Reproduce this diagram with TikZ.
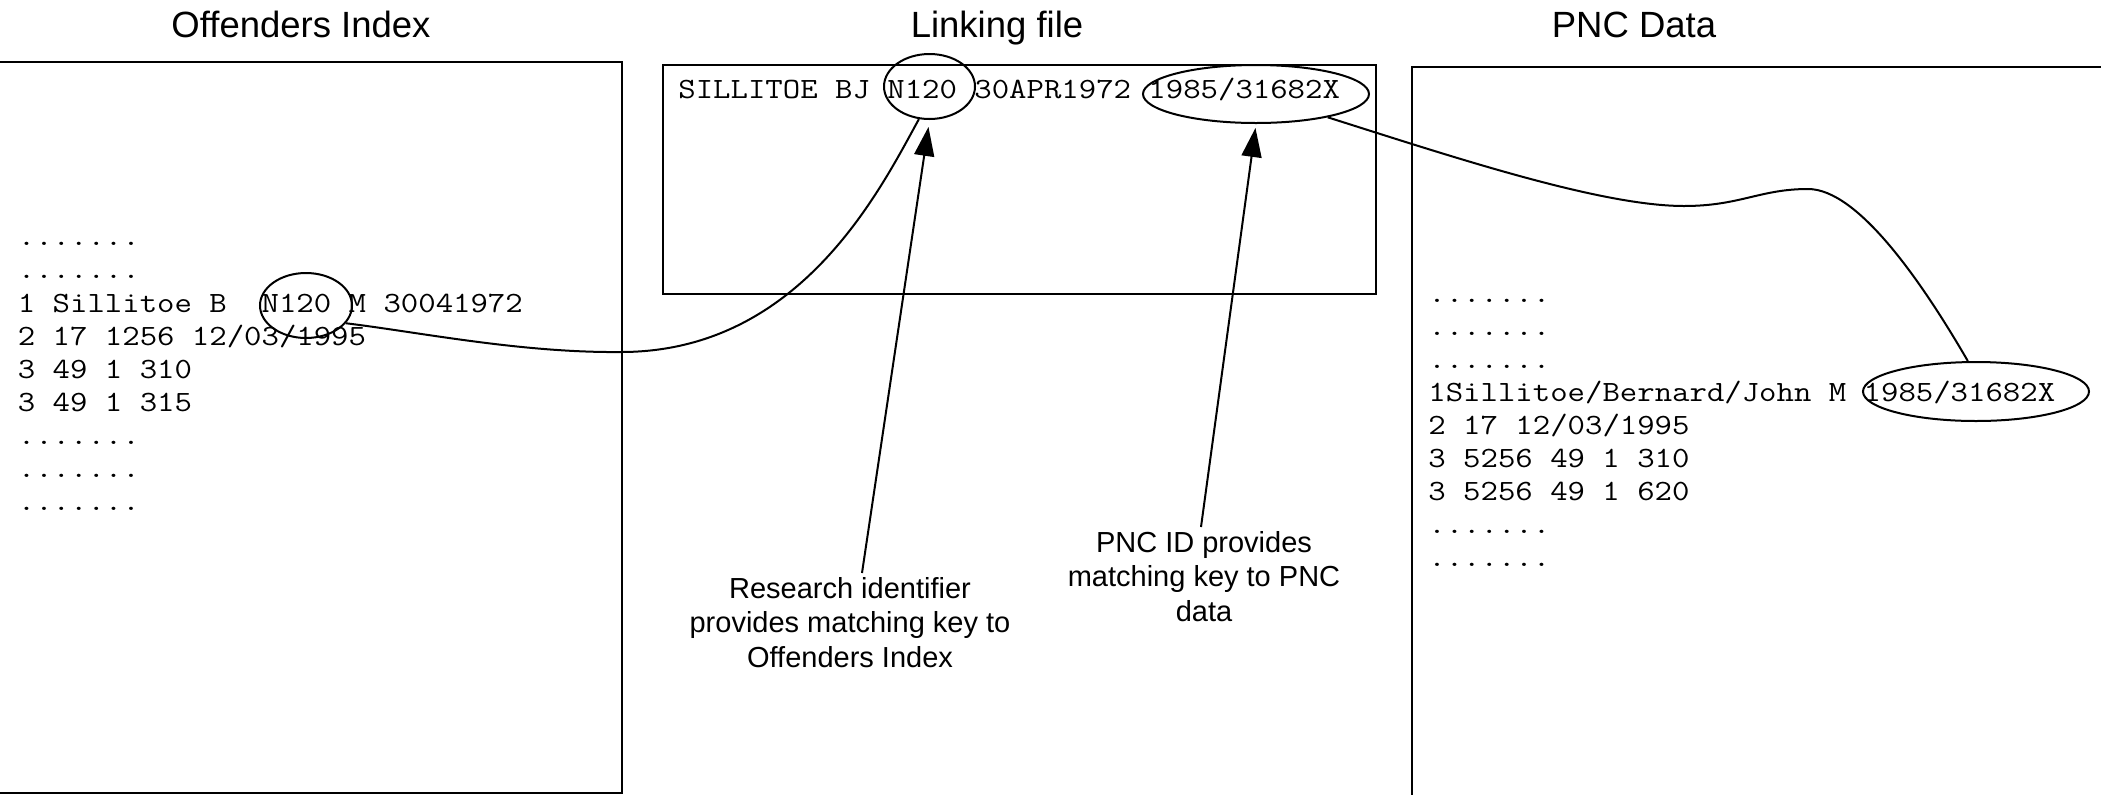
\documentclass[tikz,border=0pt]{standalone}
\usepackage{fontspec}
\setmainfont{Liberation Sans}
\setmonofont{Latin Modern Mono}[FakeStretch=1.15]
\usetikzlibrary{shapes.geometric,arrows.meta}
\tikzset{
  panel/.style={draw, line width=1pt, rectangle, anchor=north west, inner sep=0},
  ring/.style={draw, line width=1pt, ellipse, inner sep=0},
  mono/.style={anchor=base west, inner sep=0, font=\ttfamily\fontsize{14.7}{17}\selectfont},
  heading/.style={anchor=base, inner sep=0, font=\fontsize{18.25}{22}\selectfont},
  note/.style={anchor=north, inner sep=2pt, align=center, font=\fontsize{14.5}{17.25}\selectfont},
  link/.style={line width=1pt},
  arr/.style={line width=1pt, -{Triangle[length=14.5pt,width=10pt]}},
}
\begin{document}
\begin{tikzpicture}[x=0.5pt,y=-0.5pt]
\useasboundingbox (0,0) rectangle (2101,794);
\clip (0,0) rectangle (2101,794);
% titles
\node[heading] (t1) at (301,37) {Offenders Index};
\node[heading] (t2) at (997,37) {Linking file};
\node[heading] (t3) at (1634,37) {PNC Data};
% boxes
\node[panel, minimum width=320.5pt, minimum height=365.5pt] (oibox) at (-20,61) {};
\node[panel, minimum width=356.5pt, minimum height=114.5pt] (lkbox) at (662,64) {};
\node[panel, minimum width=360pt, minimum height=380pt] (pncbox) at (1411,66) {};
% Offenders Index text
\node[mono] (o1) at (17.5,245) {.......};
\node[mono] (o2) at (17.5,278) {.......};
\node[mono] (o3) at (17.5,312) {1 Sillitoe B\ \ N120 M 30041972};
\node[mono] (o4) at (17.5,345) {2 17 1256 12/03/1995};
\node[mono] (o5) at (17.5,378) {3 49 1 310};
\node[mono] (o6) at (17.5,411) {3 49 1 315};
\node[mono] (o7) at (17.5,444) {.......};
\node[mono] (o8) at (17.5,477) {.......};
\node[mono] (o9) at (17.5,510) {.......};
% Linking file text
\node[mono] (l1) at (678,98) {SILLITOE BJ N120 30APR1972 1985/31682X};
% PNC text
\node[mono] (p1) at (1428,302) {.......};
\node[mono] (p2) at (1428,335) {.......};
\node[mono] (p3) at (1428,368) {.......};
\node[mono] (p4) at (1428,401) {1Sillitoe/Bernard/John M 1985/31682X};
\node[mono] (p5) at (1428,434) {2 17 12/03/1995};
\node[mono] (p6) at (1428,467) {3 5256 49 1 310};
\node[mono] (p7) at (1428,500) {3 5256 49 1 620};
\node[mono] (p8) at (1428,533) {.......};
\node[mono] (p9) at (1428,566) {.......};
% ellipses
\node[ring, minimum width=46pt, minimum height=32.5pt] (oiN) at (306,305.5) {};
\node[ring, minimum width=45.5pt, minimum height=32.5pt] (lkN) at (929.5,86.5) {};
\node[ring, minimum width=113pt, minimum height=29pt] (lkP) at (1256,94) {};
\node[ring, minimum width=113pt, minimum height=29.5pt] (pncP) at (1976,391.5) {};
% labels
\node[note] (rlab) at (850,573) {Research identifier\\provides matching key to\\Offenders Index};
\node[note] (plab) at (1204,527) {PNC ID provides\\matching key to PNC\\data};
% arrows
\draw[arr, shorten >=3.5pt] ([xshift=6pt]rlab.north) -- (lkN.south);
\draw[arr, shorten >=2pt] ([xshift=-1.5pt]plab.north) -- (lkP.south);
% curves
\draw[link] (oiN.-24) .. controls (418,332) and (521,353) .. (621,352)
  .. controls (800,352) and (880,190) .. (lkN.-108);
\draw[link] (lkP.-18) .. controls (1450,156) and (1600,206) .. (1684,206)
  .. controls (1740,206) and (1760,189) .. (1808,189)
  .. controls (1858,189) and (1922,282) .. (pncP.105);
\end{tikzpicture}
\end{document}
